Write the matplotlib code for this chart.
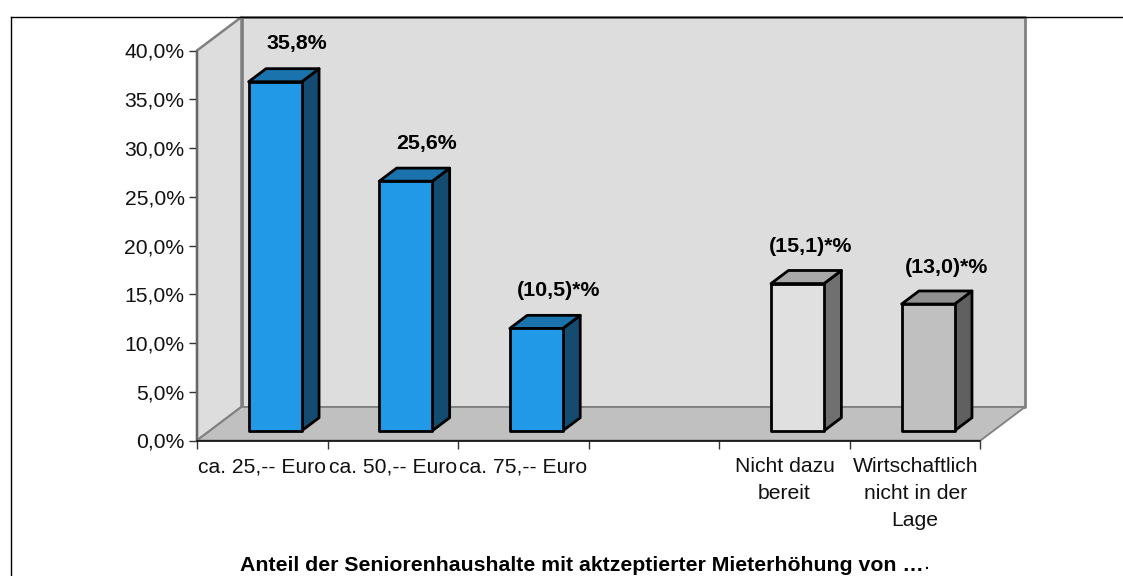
import matplotlib
matplotlib.use('Agg')
import matplotlib.pyplot as plt
from matplotlib.patches import Polygon

categories = ['ca. 25,-- Euro', 'ca. 50,-- Euro', 'ca. 75,-- Euro', '',
              'Nicht dazu\nbereit', 'Wirtschaftlich\nnicht in der\nLage']
values = [35.8, 25.6, 10.5, None, 15.1, 13.0]
value_labels = ['35,8%', '25,6%', '(10,5)*%', '', '(15,1)*%', '(13,0)*%']
y_ticks = [0, 5, 10, 15, 20, 25, 30, 35, 40]
y_tick_labels = ['0,0%', '5,0%', '10,0%', '15,0%', '20,0%', '25,0%', '30,0%', '35,0%', '40,0%']
title = 'Anteil der Seniorenhaushalte mit aktzeptierter Mieterhöhung von …'

face_colors = ['#2299E6', '#2299E6', '#2299E6', None, '#E0E0E0', '#C0C0C0']
side_colors = ['#144B70', '#144B70', '#144B70', None, '#707070', '#606060']
top_colors = ['#1B73AD', '#1B73AD', '#1B73AD', None, '#A8A8A8', '#909090']

# label placement relative to the bar's front top centre, in pixels
label_dx = [22, 21, 22, 0, 13, 18]
label_dy = [38, 38, 38, 0, 37, 37]

W, H = 1123, 576
plt.rcParams['font.family'] = ['Liberation Sans', 'DejaVu Sans']

fig = plt.figure(figsize=(W / 100, H / 100), dpi=100)
fig.patch.set_facecolor('white')

# front plane of the 3d box, in pixels
left, right, top, bottom = 197, 980.5, 50.5, 440.5
ax = fig.add_axes([left / W, 1 - bottom / H, (right - left) / W, (bottom - top) / H])
ax.set_xlim(0, 6)
ax.set_ylim(0, 40)
ax.patch.set_visible(False)
for s in ax.spines.values():
    s.set_visible(False)

px_x = 6 / (right - left)
px_y = 40 / (bottom - top)
depth_x = 44.5 * px_x
depth_y = 33.5 * px_y


def proj(x, y, d=0.0):
    return (x + d * depth_x, y + d * depth_y)


def poly(points, fc, ec='none', lw=0, z=1):
    ax.add_patch(Polygon(points, closed=True, facecolor=fc, edgecolor=ec, linewidth=lw,
                         clip_on=False, zorder=z, joinstyle='round'))


# walls and floor
poly([proj(0, 0), proj(0, 0, 1), proj(0, 40, 1), proj(0, 40)], '#DDDDDD', '#808080', 1.8, 1)
poly([proj(0, 0, 1), proj(6, 0, 1), proj(6, 40, 1), proj(0, 40, 1)], '#DDDDDD', '#808080', 2, 1)
poly([proj(0, 0), proj(6, 0), proj(6, 0, 1), proj(0, 0, 1)], '#C0C0C0', '#808080', 1.3, 2)

# axis lines and ticks
ax.plot([0, 0], [0, 40], color='#666666', lw=1.6, clip_on=False, zorder=3)
ax.plot([0, 6], [0, 0], color='black', lw=1.1, clip_on=False, zorder=3)
ax.set_yticks(y_ticks)
ax.set_yticklabels(y_tick_labels, fontsize=15.2, color='#111111')
ax.set_xticks(range(7))
ax.set_xticklabels([])
ax.tick_params(axis='y', length=6, width=1, pad=3, color='#333333')
ax.tick_params(axis='x', length=6, width=1, color='#333333')

# bars
bar_w = 53 * px_x
bar_d0 = 0.29
bar_d1 = 0.68
for i, v in enumerate(values):
    if v is None:
        continue
    x0 = i + 0.5 - bar_w / 2
    x1 = x0 + bar_w
    poly([proj(x1, 0, bar_d0), proj(x1, 0, bar_d1), proj(x1, v, bar_d1), proj(x1, v, bar_d0)],
         side_colors[i], 'black', 2, 4)
    poly([proj(x0, v, bar_d0), proj(x1, v, bar_d0), proj(x1, v, bar_d1), proj(x0, v, bar_d1)],
         top_colors[i], 'black', 2, 4)
    poly([proj(x0, 0, bar_d0), proj(x1, 0, bar_d0), proj(x1, v, bar_d0), proj(x0, v, bar_d0)],
         face_colors[i], 'black', 2, 5)
    lx, ly = proj(i + 0.5, v, bar_d0)
    ax.annotate(value_labels[i], (lx, ly), xytext=(label_dx[i], label_dy[i]), textcoords='offset pixels',
                ha='center', va='center', fontsize=15.4, fontweight='bold', zorder=6,
                annotation_clip=False)

# category labels
for i, c in enumerate(categories):
    if c:
        ax.annotate(c, (i + 0.5, 0), xytext=(0, -17), textcoords='offset pixels',
                    ha='center', va='top', fontsize=15.2, linespacing=1.5, color='#111111',
                    annotation_clip=False)

# title, the closing full stop is not bold in the original
title_text = fig.text(240 / W, 1 - 565.5 / H, title, ha='left', va='center', fontsize=15.35, fontweight='bold')
fig.canvas.draw()
ax.annotate('.', xy=(1, 0), xycoords=title_text, xytext=(0, 2), textcoords='offset pixels',
            ha='left', va='bottom', fontsize=15.35, annotation_clip=False)

# chart frame
fig.add_artist(plt.Line2D([10.5 / W, 10.5 / W], [0, 1 - 16.5 / H], color='black', lw=1))
fig.add_artist(plt.Line2D([10.5 / W, 1], [1 - 16.5 / H, 1 - 16.5 / H], color='black', lw=1))

fig.savefig('out.png', dpi=100)
